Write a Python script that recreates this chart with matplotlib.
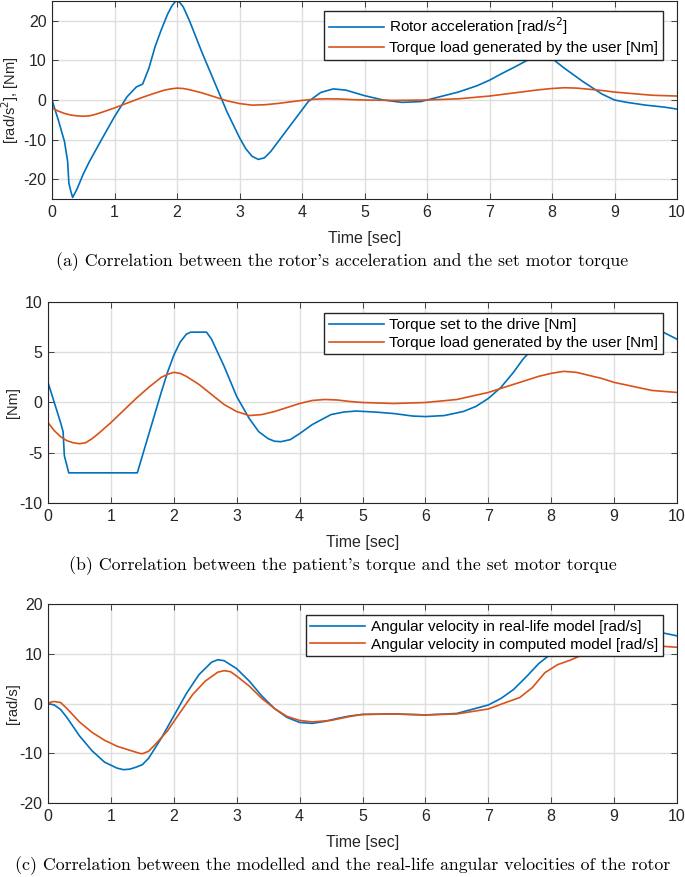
import matplotlib
matplotlib.use("Agg")
import matplotlib.pyplot as plt
from matplotlib import font_manager

# ---------------- data ----------------
t_acc = [0, 0.1, 0.2, 0.25, 0.27, 0.3, 0.33, 0.4, 0.5, 0.6, 0.8, 1.0, 1.2, 1.35, 1.45, 1.55, 1.65,
         1.75, 1.85, 1.92, 1.97, 2.0, 2.04, 2.1, 2.2, 2.3, 2.4, 2.6, 2.8, 3.0, 3.1, 3.2, 3.3, 3.4,
         3.5, 3.7, 3.9, 4.1, 4.3, 4.5, 4.7, 5.0, 5.3, 5.6, 5.9, 6.2, 6.5, 6.8, 7.0, 7.2, 7.4,
         7.6, 7.8, 7.9, 8.0, 8.2, 8.5, 8.8, 9.0, 9.2, 9.5, 9.8, 10.0]
rotor_acc = [0, -5, -10.5, -15.5, -21, -23, -24.6, -22.5, -18.7, -15.5, -9.8, -4.2, 0.8, 3.3, 4.0,
             8, 13.5, 17.8, 21.7, 23.8, 24.8, 25, 24.7, 23.5, 20, 16, 12, 4.5, -3, -9.5, -12.3,
             -14.2, -15, -14.6, -13, -8.8, -4.6, -0.4, 1.9, 2.8, 2.5, 1.1, 0, -0.6, -0.4, 0.8, 2,
             3.6, 5, 6.7, 8.3, 10, 11.5, 12, 10.5, 8, 4.6, 1.5, 0, -0.6, -1.3, -1.8, -2.3]

t_load = [0, 0.1, 0.2, 0.3, 0.4, 0.5, 0.6, 0.7, 0.8, 1.0, 1.2, 1.4, 1.6, 1.8, 1.9, 2.0, 2.1, 2.2,
          2.4, 2.6, 2.8, 3.0, 3.2, 3.4, 3.6, 3.8, 4.0, 4.2, 4.4, 4.6, 4.8, 5.0, 5.5, 6.0, 6.5, 7.0,
          7.5, 7.8, 8.0, 8.2, 8.4, 8.6, 8.8, 9.0, 9.3, 9.6, 10.0]
torque_load = [-2, -2.8, -3.4, -3.8, -4.0, -4.1, -4.0, -3.6, -3.1, -2.0, -0.8, 0.4, 1.5, 2.5, 2.8,
               3.0, 2.9, 2.6, 1.8, 0.8, -0.2, -0.9, -1.3, -1.2, -0.9, -0.5, -0.1, 0.2, 0.3, 0.25,
               0.1, 0, -0.1, 0, 0.3, 1.0, 2.0, 2.6, 2.9, 3.1, 3.0, 2.7, 2.4, 2.0, 1.6, 1.2, 1.0]

t_set = [0, 0.1, 0.2, 0.24, 0.26, 0.33, 1.42, 1.6, 1.8, 1.9, 2.0, 2.1, 2.2, 2.27, 2.52, 2.6, 2.8,
         3.0, 3.2, 3.35, 3.5, 3.6, 3.7, 3.85, 4.0, 4.2, 4.5, 4.7, 4.9, 5.2, 5.5, 5.8, 6.0, 6.3,
         6.6, 6.8, 7.0, 7.2, 7.4, 7.55, 7.8, 7.95, 9.78, 10.0]
torque_set = [2, 0, -2, -2.9, -5.3, -7, -7, -3.2, 1.0, 3.0, 4.7, 6.0, 6.8, 7.0, 7.0, 6.3, 3.6,
              0.6, -1.6, -2.9, -3.6, -3.85, -3.9, -3.7, -3.1, -2.2, -1.2, -0.95, -0.85, -0.95,
              -1.1, -1.35, -1.4, -1.3, -0.9, -0.4, 0.4, 1.5, 3.0, 4.3, 6.0, 7.0, 7.0, 6.3]

t_real = [0, 0.1, 0.2, 0.3, 0.5, 0.7, 0.9, 1.1, 1.2, 1.3, 1.4, 1.5, 1.6, 1.8, 2.0, 2.2, 2.4, 2.6,
          2.7, 2.8, 3.0, 3.2, 3.4, 3.6, 3.8, 4.0, 4.2, 4.4, 4.6, 4.8, 5.0, 5.5, 6.0, 6.5, 7.0,
          7.2, 7.4, 7.6, 7.8, 8.0, 8.2, 8.5, 9.0, 9.5, 9.77, 10.0]
vel_real = [0, -0.3, -1.2, -2.8, -6.5, -9.5, -11.8, -13.0, -13.3, -13.2, -12.8, -12.3, -11, -7,
            -2.5, 2.0, 5.8, 8.3, 8.8, 8.6, 7.0, 4.5, 1.5, -1.0, -2.8, -3.8, -4.0, -3.6, -3.0,
            -2.5, -2.2, -2.1, -2.3, -2.0, -0.3, 1.0, 2.8, 5.3, 8.0, 10.0, 12, 14, 15, 14.8, 14.2,
            13.6]

t_comp = [0, 0.05, 0.1, 0.2, 0.3, 0.5, 0.7, 0.9, 1.1, 1.3, 1.45, 1.5, 1.6, 1.7, 1.9, 2.1, 2.3,
          2.5, 2.7, 2.8, 2.9, 3.0, 3.2, 3.4, 3.6, 3.8, 4.0, 4.2, 4.5, 4.8, 5.0, 5.5, 6.0, 6.5,
          7.0, 7.3, 7.5, 7.7, 7.9, 8.1, 8.3, 8.5, 9.0, 9.5, 9.77, 10.0]
vel_comp = [0, 0.3, 0.4, 0.2, -1.0, -3.7, -5.8, -7.4, -8.6, -9.4, -10.0, -10.1, -9.6, -8.3, -5.5,
            -1.8, 1.8, 4.5, 6.3, 6.6, 6.4, 5.5, 3.5, 1.0, -1.0, -2.6, -3.4, -3.7, -3.4, -2.6,
            -2.2, -2.1, -2.3, -2.1, -1.1, 0.3, 1.2, 3.2, 6.2, 7.8, 8.7, 9.8, 11.0, 11.6, 11.5,
            11.3]

x_ticks = list(range(0, 11))
yticks_a = [-20, -10, 0, 10, 20]
yticks_b = [-10, -5, 0, 5, 10]
yticks_c = [-20, -10, 0, 10, 20]

captions = [
    "(a) Correlation between the rotor's acceleration and the set motor torque",
    "(b) Correlation between the patient's torque and the set motor torque",
    "(c) Correlation between the modelled and the real-life angular velocities of the rotor",
]

# ---------------- style ----------------
plt.rcParams['font.family'] = ['Liberation Sans', 'DejaVu Sans']
plt.rcParams['axes.unicode_minus'] = False
names = {f.name for f in font_manager.fontManager.ttflist}
if 'Liberation Sans Narrow' in names:
    NARROW = ['Liberation Sans Narrow', 'Liberation Sans']
    TICK_FS = 12.5
else:
    NARROW = ['Liberation Sans', 'DejaVu Sans']
    TICK_FS = 11.5

BLUE = '#0072BD'
ORANGE = '#D95319'
AXC = '#262626'

W, H = 685, 877
fig = plt.figure(figsize=(W / 100, H / 100), dpi=100)


def pos(l, r, t, b):
    return [l / W, 1 - b / H, (r - l) / W, (b - t) / H]


def style(ax, ylim, yticks):
    ax.set_xlim(0, 10)
    ax.set_ylim(*ylim)
    ax.set_xticks(x_ticks)
    ax.set_yticks(yticks)
    ax.grid(True, color='#dedede', linewidth=1.0)
    ax.set_axisbelow(True)
    ax.tick_params(direction='in', top=True, right=True, length=4, width=0.6,
                   colors=AXC, pad=4)
    for lab in ax.get_xticklabels() + ax.get_yticklabels():
        lab.set_family(NARROW)
        lab.set_fontsize(TICK_FS)
    for s in ax.spines.values():
        s.set_color(AXC)
        s.set_linewidth(0.8)
    ax.set_xlabel('Time [sec]', fontsize=TICK_FS, color=AXC, family=NARROW)
    ax.xaxis.set_label_coords(0.5, -0.16)


def legend(ax, top):
    leg = ax.legend(loc='upper right', bbox_to_anchor=(0.977, top),
                    prop={'family': ['Liberation Sans', 'DejaVu Sans'], 'size': 11},
                    frameon=True, fancybox=False, framealpha=1, edgecolor='#262626',
                    handlelength=3.6, borderpad=0.3, labelspacing=0.25,
                    handletextpad=0.35, borderaxespad=0)
    leg.get_frame().set_linewidth(1.0)


lw = 1.2

# (a)
ax1 = fig.add_axes(pos(52, 677, 1, 199))
ax1.plot(t_acc, rotor_acc, color=BLUE, lw=lw, label='Rotor acceleration [rad/s$^2$]')
ax1.plot(t_load, torque_load, color=ORANGE, lw=lw, label='Torque load generated by the user [Nm]')
style(ax1, (-25, 25), yticks_a)
ax1.set_ylabel('[rad/s$^2$], [Nm]', fontsize=TICK_FS - 1, color=AXC, family=NARROW)
ax1.yaxis.set_label_coords(-0.05, 0.5)
legend(ax1, 0.95)

# (b)
ax2 = fig.add_axes(pos(48, 677, 302, 503))
ax2.plot(t_set, torque_set, color=BLUE, lw=lw, label='Torque set to the drive [Nm]')
ax2.plot(t_load, torque_load, color=ORANGE, lw=lw, label='Torque load generated by the user [Nm]')
style(ax2, (-10, 10), yticks_b)
ax2.set_ylabel('[Nm]', fontsize=TICK_FS - 1, color=AXC, family=NARROW)
ax2.yaxis.set_label_coords(-0.045, 0.5)
legend(ax2, 0.943)

# (c)
ax3 = fig.add_axes(pos(48, 677, 604, 803))
ax3.plot(t_real, vel_real, color=BLUE, lw=lw, label='Angular velocity in real-life model [rad/s]')
ax3.plot(t_comp, vel_comp, color=ORANGE, lw=lw, label='Angular velocity in computed model [rad/s]')
style(ax3, (-20, 20), yticks_c)
ax3.set_ylabel('[rad/s]', fontsize=TICK_FS - 1, color=AXC, family=NARROW)
ax3.yaxis.set_label_coords(-0.045, 0.5)
legend(ax3, 0.943)

for cap, y in zip(captions, [262, 566, 866]):
    fig.text(0.5, 1 - y / H, cap, ha='center', va='center', fontsize=12.8,
             family=['cmr10', 'DejaVu Serif'])

fig.savefig('out.png', dpi=100)
